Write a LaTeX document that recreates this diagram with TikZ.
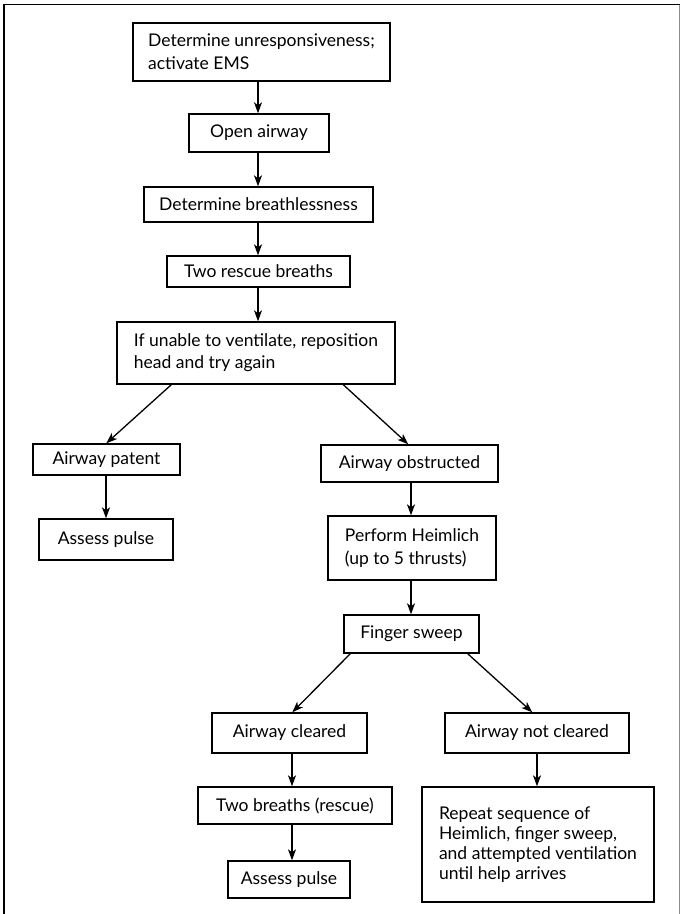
\documentclass[tikz,border=0pt]{standalone}
\usepackage{fontspec}
\setmainfont{Lato}
\usetikzlibrary{arrows.meta}
\tikzset{
  box/.style={draw, line width=1.4pt, inner sep=0pt, align=center,
              font=\fontsize{17.5}{23}\selectfont},
  lbox/.style={box, align=left},
  flow/.style={line width=1.3pt, -{Stealth[length=11pt,width=8pt,inset=3pt]}},
  frame/.style={line width=1.5pt}
}
\newcommand{\boxat}[5]{% name, x, y, width, height
  \node[box, minimum width=#4pt, minimum height=#5pt] (#1) at (#2,#3)}
% straight vertical connector from node #1 down to node #2, shifted by #3
\newcommand{\vflow}[3]{%
  \draw[flow] ([xshift=#3]#2.north |- #1.south) -- ([xshift=#3]#2.north);}
\begin{document}
\begin{tikzpicture}[x=1pt,y=-1pt]
\useasboundingbox (0,0) rectangle (682,914);
% outer frame (open at the bottom)
\draw[frame] (4,914) -- (4,4.5) -- (679.5,4.5);
\draw[frame, black!45] (679.5,4.5) -- (679.5,914);

% main column
\node[lbox, minimum width=257pt, minimum height=58pt] (b1) at (261.5,52)
  {Determine unresponsiveness;\\ activate EMS};
\boxat{b2}{259}{133}{140}{38}{Open airway};
\boxat{b3}{258.5}{204.5}{229}{35}{Determine breathlessness};
\boxat{b4}{258.5}{271.5}{183}{31}{Two rescue breaths};
\node[lbox, minimum width=278pt, minimum height=62pt,
      font=\fontsize{17.5}{22}\selectfont] (b5) at (256,353)
  {If unable to ventilate, reposition\\ head and try again};

% left branch
\boxat{b6}{106.5}{459.5}{147}{31}{Airway patent};
\boxat{b7}{106}{539.5}{134}{41}{Assess pulse};

% right branch
\boxat{b8}{409.5}{463.5}{177}{37}{Airway obstructed};
\node[lbox, minimum width=168pt, minimum height=64pt] (b9) at (412,548)
  {Perform Heimlich\\ (up to 5 thrusts)};
\boxat{b10}{411.5}{634}{135}{38}{Finger sweep};

% after finger sweep
\boxat{b11}{289.5}{733}{155}{40}{Airway cleared};
\boxat{b13}{295}{805.5}{194}{37}{Two breaths (rescue)};
\boxat{b14}{289}{879.5}{122}{37}{Assess pulse};
\boxat{b12}{537}{733}{184}{40}{Airway not cleared};
\node[lbox, minimum width=232pt, minimum height=115pt,
      font=\fontsize{17.5}{20}\selectfont] (b15) at (538,844.5)
  {Repeat sequence of\\ Heimlich, finger sweep,\\ and attempted ventilation\\ until help arrives};

% vertical connectors
\vflow{b1}{b2}{-1pt}
\vflow{b2}{b3}{-0.5pt}
\vflow{b3}{b4}{-0.5pt}
\vflow{b4}{b5}{2pt}
\vflow{b6}{b7}{0pt}
\vflow{b8}{b9}{-1pt}
\vflow{b9}{b10}{-0.5pt}
\vflow{b11}{b13}{-3pt}
\vflow{b13}{b14}{3pt}
\vflow{b12}{b15}{-1pt}

% branching connectors
\draw[flow] ([xshift=55pt]b5.south west) -- ([xshift=74pt]b6.north west);
\draw[flow] ([xshift=227pt]b5.south west) -- ([xshift=88pt]b8.north west);
\draw[flow] ([xshift=7pt]b10.south west) -- ([xshift=81pt]b11.north west);
\draw[flow] ([xshift=-12pt]b10.south east) -- ([xshift=88pt]b12.north west);
\end{tikzpicture}
\end{document}
